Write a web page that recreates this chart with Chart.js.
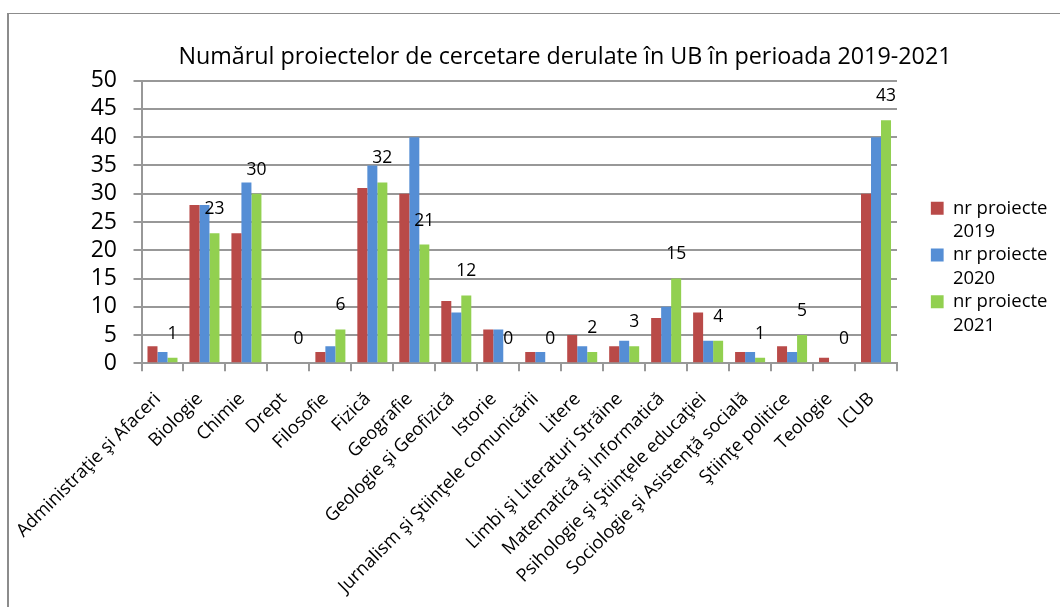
<!DOCTYPE html>
<html>
<head>
<meta charset="utf-8">
<script src="https://cdn.jsdelivr.net/npm/chart.js@4.4.1/dist/chart.umd.min.js"></script>
<style>
html,body{margin:0;padding:0;background:#fff;}
#wrap{position:relative;width:1060px;height:607px;overflow:hidden;}
#frame{position:absolute;left:7px;top:13px;width:1100px;height:700px;border-left:2px solid #8c8c8c;border-top:1px solid #8c8c8c;}
#c{position:absolute;left:0;top:0;}
</style>
</head>
<body>
<div id="wrap"><div id="frame"></div><canvas id="c" width="1060" height="607"></canvas></div>
<script>
const categories = [
  'Administraţie şi Afaceri', 'Biologie', 'Chimie', 'Drept', 'Filosofie', 'Fizică',
  'Geografie', 'Geologie şi Geofizică', 'Istorie', 'Jurnalism şi Ştiinţele comunicării',
  'Litere', 'Limbi şi Literaturi Străine', 'Matematică şi Informatică',
  'Psihologie şi Ştiinţele educaţiei', 'Sociologie şi Asistenţă socială',
  'Ştiinţe politice', 'Teologie', 'ICUB'
];
const values2019 = [3, 28, 23, 0, 2, 31, 30, 11, 6, 2, 5, 3, 8, 9, 2, 3, 1, 30];
const values2020 = [2, 28, 32, 0, 3, 35, 40, 9, 6, 2, 3, 4, 10, 4, 2, 2, 0, 40];
const values2021 = [1, 23, 30, 0, 6, 32, 21, 12, 0, 0, 2, 3, 15, 4, 1, 5, 0, 43];
const seriesNames = ['nr proiecte 2019', 'nr proiecte 2020', 'nr proiecte 2021'];
const seriesColors = ['#B94A48', '#558ED5', '#92D050'];
const titleText = 'Numărul proiectelor de cercetare derulate în UB în perioada 2019-2021';
const yMin = 0, yMax = 50, yStep = 5;

const FONT = '"Open Sans"';
const PLOT_RIGHT = 897;
const PAD = {left: 72.5, right: 2.5, top: 0, bottom: 0};

const valueLabels = {
  id: 'valueLabels',
  afterDatasetsDraw(chart) {
    const ctx = chart.ctx;
    const meta = chart.getDatasetMeta(2);
    ctx.save();
    ctx.font = '17.5px ' + FONT;
    ctx.fillStyle = '#000';
    ctx.textAlign = 'center';
    ctx.textBaseline = 'middle';
    meta.data.forEach((bar, i) => {
      ctx.fillText(String(values2021[i]), bar.x, bar.y - 24);
    });
    ctx.restore();
  }
};

const gridColor = '#989898';

new Chart(document.getElementById('c'), {
  type: 'bar',
  data: {
    labels: categories,
    datasets: [
      {label: seriesNames[0], data: values2019, backgroundColor: seriesColors[0]},
      {label: seriesNames[1], data: values2020, backgroundColor: seriesColors[1]},
      {label: seriesNames[2], data: values2021, backgroundColor: seriesColors[2]}
    ]
  },
  options: {
    responsive: false,
    animation: false,
    devicePixelRatio: 1,
    layout: {padding: PAD, autoPadding: false},
    datasets: {bar: {categoryPercentage: 0.715, barPercentage: 1.0, borderWidth: 0}},
    plugins: {
      tooltip: {enabled: false},
      title: {
        display: true,
        text: titleText,
        color: '#000',
        font: {family: FONT, size: 23.3, weight: 'normal', lineHeight: 1.2},
        padding: {top: 43, bottom: 9.7}
      },
      legend: {
        position: 'right',
        align: 'start',
        title: {display: true, text: ' ', font: {size: 10, lineHeight: 1}, padding: {top: 189, bottom: 0}},
        labels: {
          boxWidth: 13,
          boxHeight: 13,
          padding: 0,
          color: '#000',
          font: {family: FONT, size: 18.5, lineHeight: 1.265},
          generateLabels(chart) {
            const items = Chart.defaults.plugins.legend.labels.generateLabels(chart);
            items.forEach(it => { it.text = it.text.split(/ (?=\d)/); it.lineWidth = 0; });
            return items;
          }
        }
      }
    },
    scales: {
      x: {
        grid: {display: true, drawOnChartArea: false, drawTicks: true, tickLength: 8, color: gridColor, lineWidth: 2},
        border: {display: true, color: gridColor, width: 2},
        ticks: {
          autoSkip: false, maxRotation: 45, minRotation: 45, color: '#000',
          padding: 17, labelOffset: -4.7,
          font: {family: FONT, size: 18.2}
        },
        afterFit(s) { s.height = 607 - PAD.bottom - 363.3; }
      },
      y: {
        min: yMin, max: yMax,
        grid: {color: gridColor, lineWidth: 2, tickLength: 8},
        border: {display: true, color: gridColor, width: 2},
        ticks: {stepSize: yStep, autoSkip: false, color: '#000', padding: 16.5, font: {family: FONT, size: 23}},
        afterFit(s) { s.width = 141.5 - PAD.left; }
      },
      spacer: {
        type: 'linear', axis: 'y', position: 'right', display: true,
        grid: {display: false}, border: {display: false}, ticks: {display: false},
        afterFit(s) {
          const lg = s.chart.legend;
          s.width = Math.max(0, s.chart.width - PAD.right - (lg ? lg.width : 0) - PLOT_RIGHT);
        }
      }
    }
  },
  plugins: [valueLabels]
});
</script>
</body>
</html>
